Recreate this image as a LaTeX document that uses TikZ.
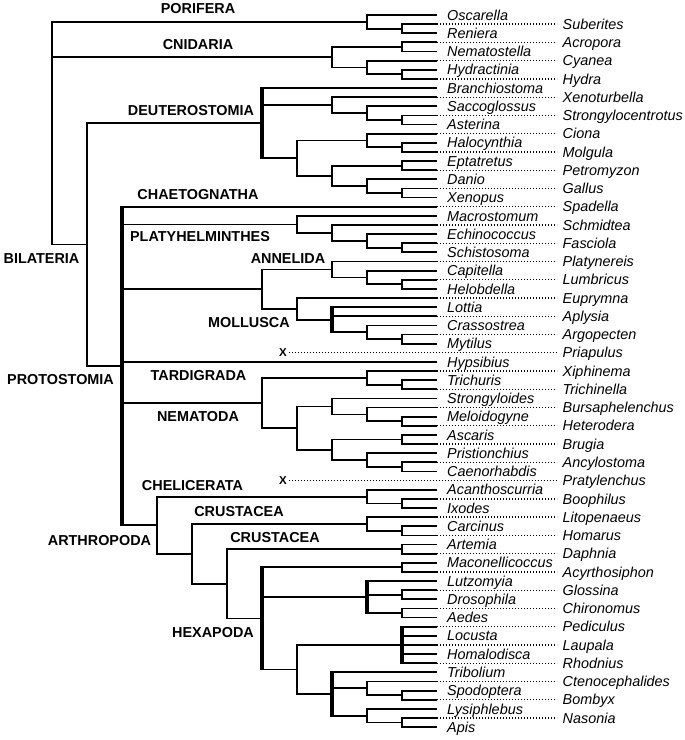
\documentclass[tikz,border=0pt]{standalone}
\usepackage{fontspec}
\setmainfont{Liberation Sans}

\tikzset{
	branch/.style={line width=1.8pt},
	polytomy/.style={line width=4.2pt, shorten <=-0.9pt, shorten >=-0.9pt},
	dots/.style={line width=1.3pt, dash pattern=on 1.3pt off 1.7pt},
	taxon/.style={anchor=west, inner ysep=0pt, text height=10.3pt, text depth=0pt, font=\fontsize{14.4}{16}\selectfont\itshape},
	solidtaxon/.style={taxon, inner xsep=10pt},
	dottedtaxon/.style={taxon, inner xsep=5.5pt},
	clade/.style={inner sep=0pt, text height=10.3pt, text depth=0pt, font=\fontsize{14.4}{16}\selectfont\bfseries},
	lost/.style={inner sep=1.5pt, font=\fontsize{11.5}{12}\selectfont\bfseries}
}

\begin{document}
\begin{tikzpicture}[x=1pt, y=-9.13pt]
	\useasboundingbox (0,-0.643) rectangle (685,80.41);

	% leaf tips
	\foreach \i in {1,...,79} \coordinate (t\i) at (437,\i);

	% species names
	\foreach \i/\name in {1/Oscarella, 3/Reniera, 5/Nematostella, 7/Hydractinia, 9/Branchiostoma, 11/Saccoglossus, 13/Asterina, 15/Halocynthia, 17/Eptatretus, 19/Danio, 21/Xenopus, 23/Macrostomum, 25/Echinococcus, 27/Schistosoma, 29/Capitella, 31/Helobdella, 33/Lottia, 35/Crassostrea, 37/Mytilus, 39/Hypsibius, 41/Trichuris, 43/Strongyloides, 45/Meloidogyne, 47/Ascaris, 49/Pristionchius, 51/Caenorhabdis, 53/Acanthoscurria, 55/Ixodes, 57/Carcinus, 59/Artemia, 61/Maconellicoccus, 63/Lutzomyia, 65/Drosophila, 67/Aedes, 69/Locusta, 71/Homalodisca, 73/Tribolium, 75/Spodoptera, 77/Lysiphlebus, 79/Apis}
		\node[solidtaxon] (l\i) at (t\i) {\name};
	\foreach \i/\name in {2/Suberites, 4/Acropora, 6/Cyanea, 8/Hydra, 10/Xenoturbella, 12/Strongylocentrotus, 14/Ciona, 16/Molgula, 18/Petromyzon, 20/Gallus, 22/Spadella, 24/Schmidtea, 26/Fasciola, 28/Platynereis, 30/Lumbricus, 32/Euprymna, 34/Aplysia, 36/Argopecten, 38/Priapulus, 40/Xiphinema, 42/Trichinella, 44/Bursaphelenchus, 46/Heterodera, 48/Brugia, 50/Ancylostoma, 52/Pratylenchus, 54/Boophilus, 56/Litopenaeus, 58/Homarus, 60/Daphnia, 62/Acyrthosiphon, 64/Glossina, 66/Chironomus, 68/Pediculus, 70/Laupala, 72/Rhodnius, 74/Ctenocephalides, 76/Bombyx, 78/Nasonia}
		\node[dottedtaxon] (l\i) at (557,\i) {\name};

	\foreach \i in {2,4,...,36} \draw[dots] (t\i) -- (l\i.west);
	\foreach \i in {40,42,...,50} \draw[dots] (t\i) -- (l\i.west);
	\foreach \i in {54,56,...,78} \draw[dots] (t\i) -- (l\i.west);

	% unplaced taxa
	\node[lost] (x38) at (283,38) {X};
	\node[lost] (x52) at (283,52) {X};
	\draw[dots] (x38.east) -- (l38.west);
	\draw[dots] (x52.east) -- (l52.west);

	% branching points
	\coordinate (root) at (52,13.95);
	\coordinate (por) at (367,1.75);
	\coordinate (por1) at (402,2.5);
	\coordinate (cni) at (332,5.625);
	\coordinate (cni1) at (402,4.5);
	\coordinate (cni3) at (367,6.75);
	\coordinate (cni2) at (402,7.5);
	\coordinate (bil) at (87,26.144);
	\coordinate (deu) at (262,12.844);
	\coordinate (deu3) at (332,10.875);
	\coordinate (deu2) at (367,11.75);
	\coordinate (deu1) at (402,12.5);
	\coordinate (deu10) at (297,16.688);
	\coordinate (deu5) at (367,14.75);
	\coordinate (deu4) at (402,15.5);
	\coordinate (deu9) at (332,18.625);
	\coordinate (deu6) at (402,17.5);
	\coordinate (deu8) at (367,19.75);
	\coordinate (deu7) at (402,20.5);
	\coordinate (pro) at (122,39.443);
	\coordinate (pla) at (297,23.938);
	\coordinate (pla3) at (332,24.875);
	\coordinate (pla2) at (367,25.75);
	\coordinate (pla1) at (402,26.5);
	\coordinate (lop) at (262,31.031);
	\coordinate (ann) at (332,28.875);
	\coordinate (ann2) at (367,29.75);
	\coordinate (ann1) at (402,30.5);
	\coordinate (mol) at (297,33.188);
	\coordinate (mol3) at (332,34.375);
	\coordinate (mol2) at (367,35.75);
	\coordinate (mol1) at (402,36.5);
	\coordinate (nem) at (262,43.5);
	\coordinate (nem2) at (367,40.75);
	\coordinate (nem1) at (402,41.5);
	\coordinate (nem10) at (297,46.25);
	\coordinate (nem5) at (332,43.875);
	\coordinate (nem4) at (367,44.75);
	\coordinate (nem3) at (402,45.5);
	\coordinate (nem9) at (332,48.625);
	\coordinate (nem6) at (402,47.5);
	\coordinate (nem8) at (367,49.75);
	\coordinate (nem7) at (402,50.5);
	\coordinate (art) at (157,56.887);
	\coordinate (che) at (367,53.75);
	\coordinate (che1) at (402,54.5);
	\coordinate (pan) at (192,60.023);
	\coordinate (cru) at (367,56.75);
	\coordinate (cru1) at (402,57.5);
	\coordinate (pan1) at (227,63.297);
	\coordinate (bra) at (402,59.5);
	\coordinate (hex) at (262,67.094);
	\coordinate (hex1) at (402,61.5);
	\coordinate (dip) at (367,64.75);
	\coordinate (dip1) at (402,64.5);
	\coordinate (dip2) at (402,66.5);
	\coordinate (hex2) at (297,72.688);
	\coordinate (hem) at (402,70);
	\coordinate (hol) at (332,75.375);
	\coordinate (lep) at (367,74.75);
	\coordinate (lep1) at (402,75.5);
	\coordinate (hym) at (367,77.75);
	\coordinate (hym1) at (402,78.5);

	% branches
	\foreach \p/\c in {root/por, root/cni, root/bil,
		por/t1, por/por1, por1/t2, por1/t3,
		cni/cni1, cni/cni3, cni1/t4, cni1/t5, cni3/t6, cni3/cni2, cni2/t7, cni2/t8,
		bil/deu, bil/pro,
		deu/t9, deu/deu3, deu/deu10,
		deu3/t10, deu3/deu2, deu2/t11, deu2/deu1, deu1/t12, deu1/t13,
		deu10/deu5, deu10/deu9, deu5/t14, deu5/deu4, deu4/t15, deu4/t16,
		deu9/deu6, deu9/deu8, deu6/t17, deu6/t18, deu8/t19, deu8/deu7, deu7/t20, deu7/t21,
		pro/t22, pro/pla, pro/lop, pro/t39, pro/nem, pro/art,
		pla/t23, pla/pla3, pla3/t24, pla3/pla2, pla2/t25, pla2/pla1, pla1/t26, pla1/t27,
		lop/ann, lop/mol,
		ann/t28, ann/ann2, ann2/t29, ann2/ann1, ann1/t30, ann1/t31,
		mol/t32, mol/mol3, mol3/t33, mol3/t34, mol3/mol2, mol2/t35, mol2/mol1, mol1/t36, mol1/t37,
		nem/nem2, nem/nem10, nem2/t40, nem2/nem1, nem1/t41, nem1/t42,
		nem10/nem5, nem10/nem9, nem5/t43, nem5/nem4, nem4/t44, nem4/nem3, nem3/t45, nem3/t46,
		nem9/nem6, nem9/nem8, nem6/t47, nem6/t48, nem8/t49, nem8/nem7, nem7/t50, nem7/t51,
		art/che, art/pan,
		che/t53, che/che1, che1/t54, che1/t55,
		pan/cru, pan/pan1, cru/t56, cru/cru1, cru1/t57, cru1/t58,
		pan1/bra, pan1/hex, bra/t59, bra/t60,
		hex/hex1, hex/dip, hex/hex2, hex1/t61, hex1/t62,
		dip/t63, dip/dip1, dip/dip2, dip1/t64, dip1/t65, dip2/t66, dip2/t67,
		hex2/hem, hex2/hol,
		hem/t68, hem/t69, hem/t70, hem/t71, hem/t72,
		hol/t73, hol/lep, hol/hym, lep/t74, lep/lep1, lep1/t75, lep1/t76,
		hym/t77, hym/hym1, hym1/t78, hym1/t79}
		\draw[branch] (\p) |- (\c);

	% unresolved nodes
	\foreach \p/\a/\b in {deu/t9/deu10, pro/t22/art, mol3/t33/mol2, hex/hex1/hex2, dip/t63/dip2, hem/t68/t72, hol/t73/hym}
		\draw[polytomy] (\p |- \a) -- (\p |- \b);

	% clade names
	\node[clade] (porifera) at (198,0.266) {PORIFERA};
	\node[clade] (cnidaria) at (198,4.21) {CNIDARIA};
	\node[clade] (deuterostomia) at (191,11.4) {DEUTEROSTOMIA};
	\node[clade] (chaetognatha) at (198,20.6) {CHAETOGNATHA};
	\node[clade] (platyhelminthes) at (200,25.28) {PLATYHELMINTHES};
	\node[clade] (bilateria) at (41.5,27.65) {BILATERIA};
	\node[clade] (annelida) at (288,27.65) {ANNELIDA};
	\node[clade] (mollusca) at (249,34.7) {MOLLUSCA};
	\node[clade] (protostomia) at (60.5,40.9) {PROTOSTOMIA};
	\node[clade] (tardigrada) at (198.5,40.43) {TARDIGRADA};
	\node[clade] (nematoda) at (198,45) {NEMATODA};
	\node[clade] (chelicerata) at (192.5,52.48) {CHELICERATA};
	\node[clade] (crustacea1) at (239,55.4) {CRUSTACEA};
	\node[clade] (arthropoda) at (99.5,58.5) {ARTHROPODA};
	\node[clade] (crustacea2) at (275,58.2) {CRUSTACEA};
	\node[clade] (hexapoda) at (213,68.6) {HEXAPODA};
\end{tikzpicture}
\end{document}
